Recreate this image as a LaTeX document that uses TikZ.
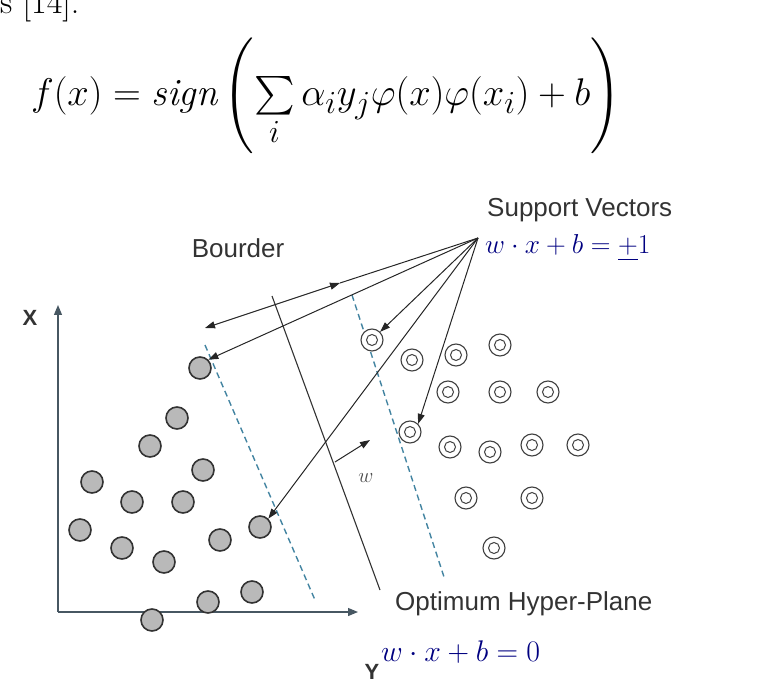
\documentclass[tikz,border=0pt]{standalone}
\usepackage{fontspec}
\usepackage{amsmath}
\usepackage{graphicx}
\newfontfamily\labfont{Liberation Sans}
\usetikzlibrary{arrows.meta}
\begin{document}
\begin{tikzpicture}[x=1pt,y=-1pt,
  lc/.style={circle,draw=black!80,fill=gray!55,line width=1.6pt,minimum size=22pt,inner sep=0pt},
  rc/.style={circle,draw=black!75,fill=white,line width=1.1pt,minimum size=22pt,inner sep=0pt,
     path picture={\draw[black!75,line width=1pt] (path picture bounding box.center) circle (5.5pt);}},
  ax/.style={draw=black!70!cyan,line width=1.2pt,-{Triangle[length=10pt,width=8pt]}},
  ar/.style={draw=black!85,line width=1pt,-{Triangle[length=10pt,width=7pt]}},
  dl/.style={draw=cyan!60!black,line width=1.4pt,dash pattern=on 6pt off 4pt},
  lab/.style={font=\labfont\fontsize{26}{28}\selectfont,text=black!80,inner sep=1pt},
  eq/.style={font=\fontsize{24.88}{30}\selectfont,text=blue!50!black,inner sep=1pt}]
\useasboundingbox (0,0) rectangle (777,695);
\node[anchor=north west,inner sep=0pt,font=\fontsize{34}{36}\selectfont] (cite) at (0,-12) {s [14].};
\node (formula) at (326,96) {\fontsize{24.88}{30}\selectfont\scalebox{1.55}{$f(x)=\mathit{sign}\left(\sum\limits_{i}\alpha_i y_j\varphi(x)\varphi(x_i)+b\right)$}};
% axes
\coordinate (o) at (58,612);
\coordinate (xt) at (58,305);
\coordinate (yt) at (358,612);
\draw[ax] (o) -- (xt);
\draw[ax] (o) -- (yt);
\node[lab,font=\labfont\bfseries\fontsize{22}{22}\selectfont] (xl) at (30,318) {X};
\node[lab,font=\labfont\bfseries\fontsize{22}{22}\selectfont] (yl) at (372,672) {Y};
% borders and hyperplane
\coordinate (b1a) at (205,345); \coordinate (b1b) at (315,600);
\coordinate (b2a) at (352,295); \coordinate (b2b) at (445,580);
\draw[dl] (b1a) -- (b1b);
\draw[dl] (b2a) -- (b2b);
\coordinate (h1) at (272,296); \coordinate (h2) at (380,590);
\draw[black!80,line width=1.1pt] (h1) -- (h2);
% circles
\foreach \n/\p in {a/{200,368},b/{177,418},c/{150,446},d/{203,470},e/{92,482},f/{132,502},g/{183,502},h/{80,530},i/{122,548},j/{164,562},k/{220,540},l/{260,527},m/{252,592},n/{208,602},o2/{152,620}}
  \node[lc] (L\n) at (\p) {};
\foreach \n/\p in {a/{372,340},b/{412,360},c/{456,355},d/{500,345},e/{448,392},f/{500,392},g/{548,392},h/{410,432},i/{450,447},j/{490,452},k/{532,445},l/{578,445},m/{466,498},n/{532,498},o2/{494,548}}
  \node[rc] (R\n) at (\p) {};
% support vector arrows
\coordinate (src) at (478,238);
\draw[ar] (src) -- (La.north east);
\draw[ar] (src) -- (Ra.north east);
\draw[ar] (src) -- (Rh.north east);
\draw[ar] (src) -- (Ll.north east);
\coordinate (bd1) at (205,328); \coordinate (bd2) at (340,283);
\draw[ar,{Triangle[length=10pt,width=7pt]}-{Triangle[length=10pt,width=7pt]}] (bd1) -- (bd2);
\draw[black!85,line width=1pt] (bd2) -- (src);
% w
\coordinate (w1) at (335,462); \coordinate (w2) at (370,440);
\draw[ar] (w1) -- (w2);
\node[eq,text=black!70,font=\itshape\fontsize{20}{22}\selectfont] (wl) at (366,478) {$w$};
% labels
\node[lab] (bl) at (238,248) {Bourder};
\node[lab,anchor=west] (sv) at (486,210) {Support Vectors};
\node[eq,anchor=west] (e1) at (484,248) {\scalebox{1.1}{$w\cdot x+b=\underline{+}1$}};
\node[lab,anchor=west] (oh) at (394,604) {Optimum Hyper-Plane};
\node[eq,anchor=west] (e0) at (380,652) {\scalebox{1.2}{$w\cdot x+b=0$}};
\end{tikzpicture}
\end{document}
